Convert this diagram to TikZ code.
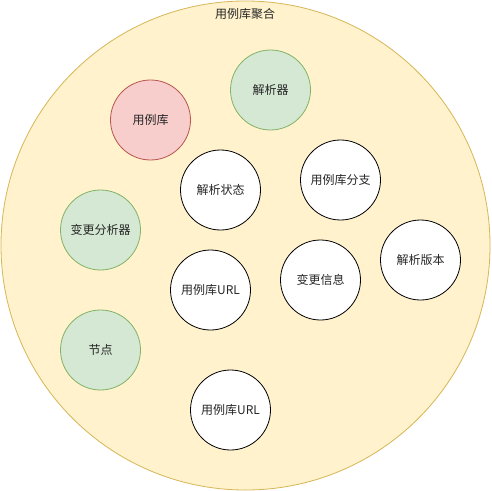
\documentclass[tikz,border=0pt]{standalone}
\usepackage{fontspec}
\newfontfamily\cjk{Noto Sans CJK SC}
\definecolor{yfill}{HTML}{FFF2CC}
\definecolor{ydraw}{HTML}{D6B656}
\definecolor{gfill}{HTML}{D5E8D4}
\definecolor{gdraw}{HTML}{82B366}
\definecolor{rfill}{HTML}{F8CECC}
\definecolor{rdraw}{HTML}{B85450}
\tikzset{
  ball/.style={circle, minimum size=80bp, inner sep=0pt, line width=0.8bp, font=\cjk\fontsize{12bp}{14bp}\selectfont, text=black!85},
  whiteball/.style={ball, draw=black, fill=white},
  greenball/.style={ball, draw=gdraw, fill=gfill},
  redball/.style={ball, draw=rdraw, fill=rfill},
}
\begin{document}
\begin{tikzpicture}[x=1bp,y=-1bp]
\useasboundingbox (0,0) rectangle (491,491);
\node[circle, minimum size=489bp, inner sep=0pt, draw=ydraw, fill=yfill, line width=0.8bp] (agg) at (245.5,245.5) {};
\node[font=\cjk\fontsize{12bp}{14bp}\selectfont, text=black!85] (title) at (245,14) {用例库聚合};
\node[greenball] (parser) at (270.5,90) {解析器};
\node[redball] (repo) at (150.5,120) {用例库};
\node[whiteball] (pstate) at (220.5,190) {解析状态};
\node[whiteball] (branch) at (340.5,180) {用例库分支};
\node[greenball] (chanalyzer) at (100.5,230) {变更分析器};
\node[whiteball] (pversion) at (420.5,260) {解析版本};
\node[whiteball] (url1) at (210.5,290) {用例库URL};
\node[whiteball] (chinfo) at (320.5,280) {变更信息};
\node[greenball] (node) at (100.5,350) {节点};
\node[whiteball] (url2) at (230.5,410) {用例库URL};
\end{tikzpicture}
\end{document}
